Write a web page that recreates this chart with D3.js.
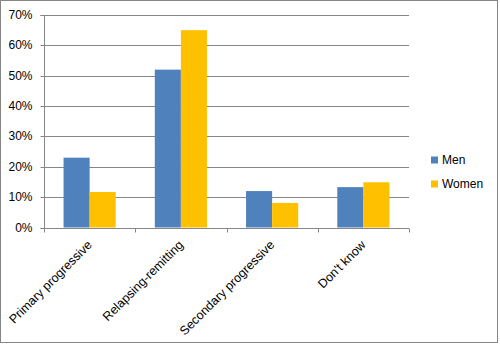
<!DOCTYPE html>
<html><head><meta charset="utf-8">
<script src="https://cdn.jsdelivr.net/npm/d3@7"></script>
<style>body{margin:0;background:#fff}svg{display:block}</style>
</head><body>
<svg id="c" width="500" height="347"></svg>
<script>
const categories = ["Primary progressive","Relapsing-remitting","Secondary progressive","Don't know"];
const seriesNames = ["Men","Women"];
const menValues = [0.23, 0.52, 0.12, 0.133];
const womenValues = [0.117, 0.65, 0.081, 0.149];
const yTicks = [0,0.1,0.2,0.3,0.4,0.5,0.6,0.7];
const colors = ["#4F81BD","#FFC000"];

const svg = d3.select("#c");
const font = "'Liberation Sans', Arial, sans-serif";
svg.append("rect").attr("x",0.5).attr("y",0.5).attr("width",497).attr("height",342)
  .attr("fill","#fff").attr("stroke","#868686");

const L=44, R=409, T=15, B=227.5;
const x = d3.scaleBand().domain(categories).range([L,R]).paddingInner(0).paddingOuter(0);
const xs = d3.scaleBand().domain(seriesNames).range([0,x.bandwidth()]).paddingInner(0).paddingOuter(0.75);
const y = d3.scaleLinear().domain([0,0.7]).range([B,T]);

// gridlines
svg.append("g").selectAll("line").data(yTicks.filter(d=>d>0)).join("line")
  .attr("x1",L).attr("x2",R).attr("y1",d=>Math.round(y(d))+0.5).attr("y2",d=>Math.round(y(d))+0.5)
  .attr("stroke","#868686").attr("stroke-width",1);

// y axis
const ya = svg.append("g").attr("transform",`translate(${L+0.5},0)`)
  .call(d3.axisLeft(y).tickValues(yTicks).tickFormat(d3.format(".0%")).tickSize(4).tickPadding(8));
ya.select(".domain").attr("stroke","#868686").attr("d",`M-4,${Math.round(T)+0.5}H0V${Math.round(B)+0.5}H-4`);
ya.selectAll(".tick line").attr("stroke","#868686");
ya.selectAll(".tick").attr("transform",d=>`translate(0,${Math.round(y(d))+0.5})`);
ya.selectAll("text").attr("font-family",font).attr("font-size",12).attr("fill","#000");

// bars
const data = categories.map((c,i)=>({c, vals:[menValues[i],womenValues[i]]}));
const g = svg.append("g");
data.forEach(d=>{
  d.vals.forEach((v,j)=>{
    g.append("rect").attr("x",x(d.c)+xs(seriesNames[j])).attr("width",xs.bandwidth())
      .attr("y",y(v)).attr("height",B-y(v)).attr("fill",colors[j]);
  });
});

// x axis
const xa = svg.append("g").attr("transform",`translate(0,${Math.round(B)+0.5})`)
  .call(d3.axisBottom(x).tickSize(0).tickFormat(""));
xa.select(".domain").remove();
xa.append("line").attr("x1",L).attr("x2",R).attr("stroke","#868686");
const bounds = [L, ...categories.map(c=>x(c)+x.bandwidth())];
xa.selectAll(".bt").data(bounds).join("line").attr("class","bt")
  .attr("x1",d=>Math.round(d)+0.5).attr("x2",d=>Math.round(d)+0.5).attr("y1",0).attr("y2",4).attr("stroke","#868686");
svg.append("g").selectAll("text").data(categories).join("text")
  .attr("transform",d=>`translate(${x(d)+x.bandwidth()/2},${B+15}) rotate(-45)`)
  .attr("text-anchor","end").attr("dy","0.35em")
  .attr("font-family",font).attr("font-size",12.5).attr("fill","#000").text(d=>d);

// legend
const lg = svg.append("g");
seriesNames.forEach((s,i)=>{
  const yy = 160 + i*24;
  lg.append("rect").attr("x",431).attr("y",yy-3.5).attr("width",7).attr("height",7).attr("fill",colors[i]);
  lg.append("text").attr("x",442).attr("y",yy).attr("dy","0.35em")
    .attr("font-family",font).attr("font-size",12).attr("fill","#000").text(s);
});
</script>
</body></html>
